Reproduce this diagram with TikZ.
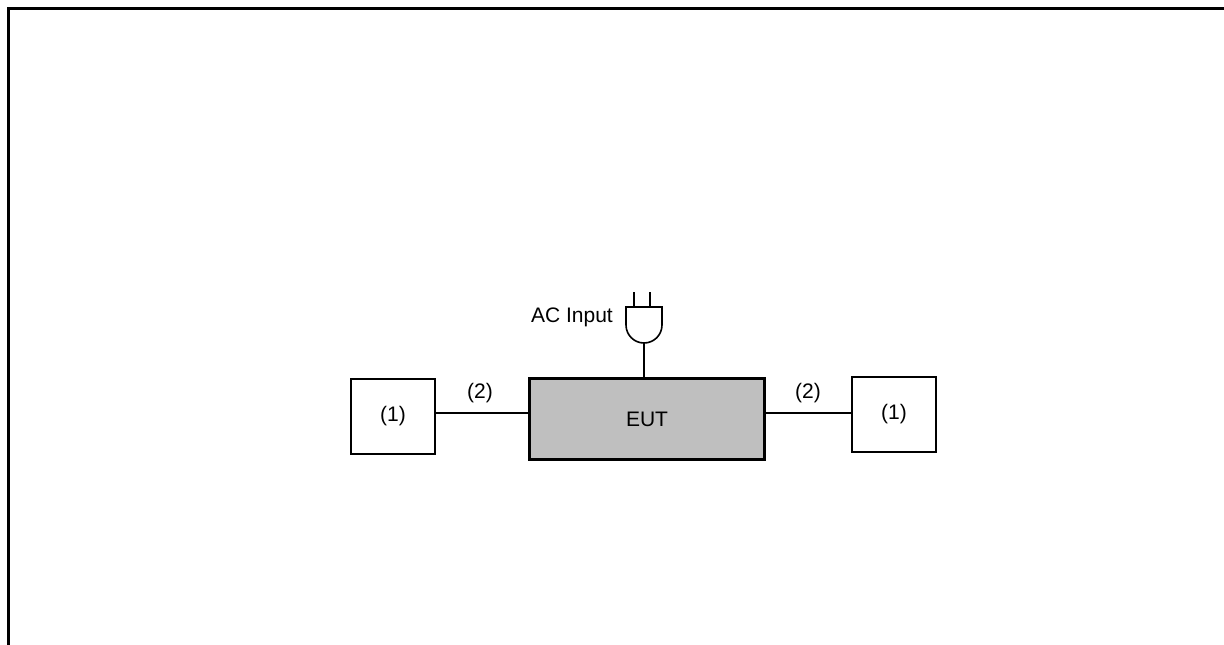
\documentclass[tikz,border=0pt]{standalone}
\usepackage{fontspec}
\setmainfont{Liberation Sans}
\usepackage{tikz}

\begin{document}
\begin{tikzpicture}[x=1pt,y=-1pt]
\tikzstyle{every node}+=[inner sep=0pt, font=\fontsize{21}{25}\selectfont]
\tikzstyle{unitbox}=[draw=black, line width=1.6pt, fill=white, minimum width=84pt, minimum height=75pt]
\tikzstyle{eutbox}=[draw=black, line width=2.4pt, fill=black!25, minimum width=235pt, minimum height=81pt]
\tikzstyle{cable}=[black, line width=1.6pt]
\useasboundingbox (0,0) rectangle (1224,645);
% frame
\draw [black, line width=3pt] (8,645) -- (8,8) -- (1224,8);
% units
\node [eutbox] (eut) at (647,419) {EUT};
\node [unitbox] (aux1) at (393,416.5) {(1)};
\node [unitbox] (aux2) at (894,414.5) {(1)};
% cables
\draw [cable] (aux1.east |- 0,413) -- (eut.west |- 0,413);
\draw [cable] (eut.east |- 0,413) -- (aux2.west |- 0,413);
\draw (480,393) node {(2)};
\draw (808,393) node {(2)};
% plug
\coordinate (plug) at (644,343);
\draw [cable] (plug) -- (eut.north -| plug);
\draw [cable] (626,307) -- (626,325) arc (180:0:18) -- (662,307) -- cycle;
\draw [cable] (634,307) -- (634,292);
\draw [cable] (650,307) -- (650,292);
\draw (613,317) node [left] {AC Input};
\end{tikzpicture}
\end{document}
